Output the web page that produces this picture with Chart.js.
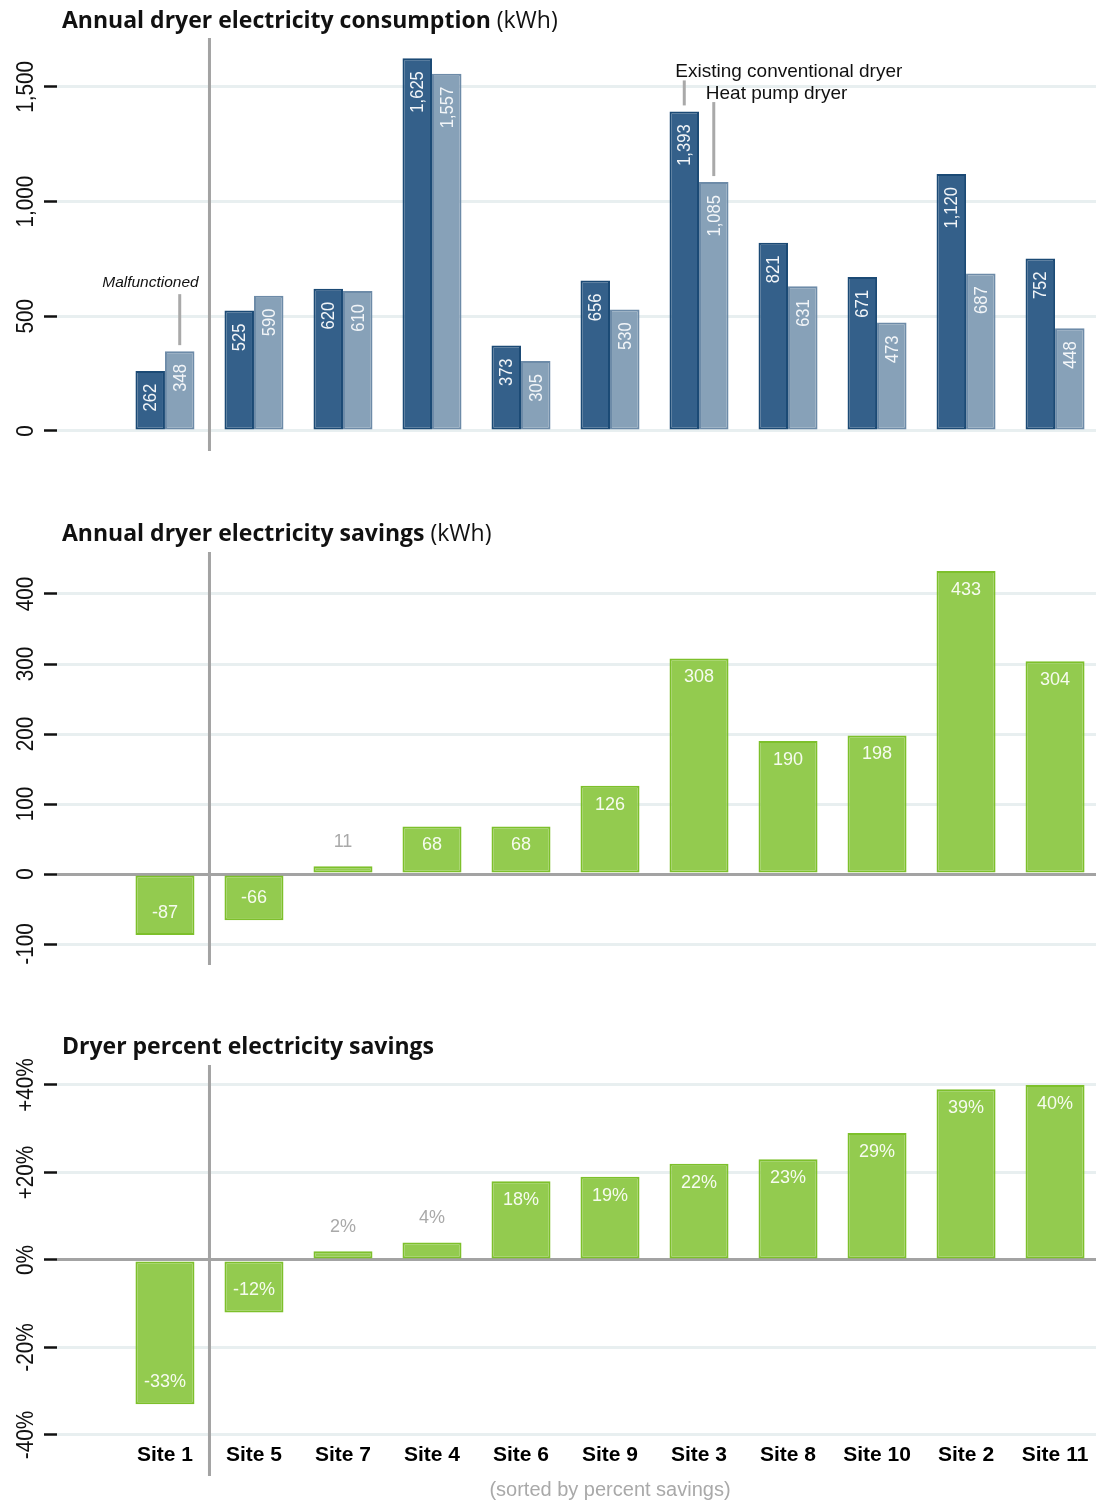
<!DOCTYPE html>
<html><head><meta charset="utf-8">
<script src="https://cdn.jsdelivr.net/npm/chart.js@4/dist/chart.umd.min.js"></script>
<style>
html,body{margin:0;padding:0;background:#fff;}
body{width:1096px;height:1503px;position:relative;overflow:hidden;font-family:"Liberation Sans",Arial,sans-serif;}
canvas{position:absolute;left:0;}
.title{position:absolute;left:62px;font-family:"Open Sans",sans-serif;font-size:23px;line-height:28px;color:#111;white-space:nowrap;}
.title b{font-weight:700;}
.note{position:absolute;left:0;width:1220px;text-align:center;top:1477px;font-size:20px;line-height:24px;color:#a9a9a9;}
</style></head><body>
<canvas id="c1" width="1096" height="480" style="top:0px"></canvas>
<canvas id="c2" width="1096" height="490" style="top:490px"></canvas>
<canvas id="c3" width="1096" height="503" style="top:1000px"></canvas>
<div class="title" style="top:5px"><b>Annual dryer electricity consumption</b> (kWh)</div>
<div class="title" style="top:518px"><b>Annual dryer electricity savings</b> (kWh)</div>
<div class="title" style="top:1031px"><b>Dryer percent electricity savings</b></div>
<div class="note">(sorted by percent savings)</div>
<script>
// ---- data ----
const sites = ['Site 1','Site 5','Site 7','Site 4','Site 6','Site 9','Site 3','Site 8','Site 10','Site 2','Site 11'];
const existingKWh = [262, 525, 620, 1625, 373, 656, 1393, 821, 671, 1120, 752];
const heatPumpKWh = [348, 590, 610, 1557, 305, 530, 1085, 631, 473, 687, 448];
const savingsKWh  = [-87, -66, 11, 68, 68, 126, 308, 190, 198, 433, 304];
const savingsPct  = [-33, -12, 2, 4, 18, 19, 22, 23, 29, 39, 40];
const consumptionTicks = [0, 500, 1000, 1500];
const consumptionTickLabels = ['0', '500', '1,000', '1,500'];
const savingsTicks = [-100, 0, 100, 200, 300, 400];
const savingsTickLabels = ['-100', '0', '100', '200', '300', '400'];
const pctTicks = [-40, -20, 0, 20, 40];
const pctTickLabels = ['-40%', '-20%', '0%', '+20%', '+40%'];
const seriesNames = ['Existing conventional dryer', 'Heat pump dryer'];
const malfunctionNote = 'Malfunctioned';

// ---- styles ----
const FONT = '"Liberation Sans", Arial, sans-serif';
const GRID = '#e8eff0';
const ZERO = '#a3a3a3';
const fmt = v => v.toLocaleString('en-US');
const pts = arr => arr.map((v, i) => ({x: i, y: v}));

function xAxis(showLabels) {
  return {
    type: 'linear', min: -1.213, max: 10.46, display: showLabels, offset: false,
    afterBuildTicks: s => { s.ticks = sites.map((_, i) => ({value: i})); },
    afterFit: s => { if (showLabels) s.height = 66; },
    grid: {display: false, drawTicks: false, offset: false},
    border: {display: false},
    ticks: {autoSkip: false, maxRotation: 0, minRotation: 0, padding: 6, color: '#000',
      font: {family: FONT, size: 21, weight: 'bold'},
      callback: v => sites[v] ?? ''}
  };
}
function yAxis(min, max, ticks, zeroDark) {
  return {
    min, max,
    afterBuildTicks: s => { s.ticks = ticks.map(v => ({value: v})); },
    afterFit: s => { s.width = 57; },
    border: {display: false},
    ticks: {display: false},
    grid: {
      color: c => (zeroDark && c.tick && c.tick.value === 0) ? ZERO : GRID,
      lineWidth: 3, drawTicks: true, tickLength: 13, tickColor: '#111', tickWidth: 2.5
    }
  };
}

const yLabels = {
  id: 'yLabels',
  afterDraw(chart, args, o) {
    const s = chart.scales.y, ctx = chart.ctx;
    ctx.save();
    ctx.font = '23px ' + FONT; ctx.fillStyle = '#111';
    ctx.textAlign = 'center'; ctx.textBaseline = 'alphabetic';
    o.values.forEach((v, i) => {
      ctx.save();
      ctx.translate(33, s.getPixelForValue(v));
      ctx.rotate(-Math.PI / 2);
      ctx.scale(0.9, 1);
      ctx.fillText(o.labels[i], 0, 0);
      ctx.restore();
    });
    ctx.restore();
  }
};

const separator = {
  id: 'separator',
  beforeDatasetsDraw(chart, args, o) {
    const x = chart.scales.x.getPixelForValue(0.5), a = chart.chartArea, ctx = chart.ctx;
    ctx.save();
    ctx.strokeStyle = '#a3a3a3'; ctx.lineWidth = 3;
    ctx.beginPath(); ctx.moveTo(x, a.top); ctx.lineTo(x, a.bottom + (o.extend || 0)); ctx.stroke();
    ctx.restore();
  }
};

const barLabels = {
  id: 'barLabels',
  afterDatasetsDraw(chart, args, o) {
    const ctx = chart.ctx;
    ctx.save();
    ctx.font = '18px ' + FONT;
    chart.data.datasets.forEach((ds, di) => {
      chart.getDatasetMeta(di).data.forEach((bar, i) => {
        const v = ds.data[i].y;
        const text = o.format(v);
        if (o.mode === 'vertical') {
          ctx.save();
          ctx.fillStyle = '#f2f5f8';
          ctx.translate(bar.x + 1, bar.y + 13);
          ctx.rotate(-Math.PI / 2);
          ctx.scale(0.92, 1);
          ctx.textAlign = 'right'; ctx.textBaseline = 'middle';
          ctx.fillText(text, 0, 0);
          ctx.restore();
        } else {
          const h = Math.abs(bar.base - bar.y);
          ctx.textAlign = 'center'; ctx.textBaseline = 'middle';
          if (h < 35) {
            ctx.fillStyle = '#a9a9a9';
            ctx.fillText(text, bar.x, Math.min(bar.y, bar.base) - 24);
          } else {
            ctx.fillStyle = '#f6fbef';
            ctx.fillText(text, bar.x, v >= 0 ? bar.y + 19 : bar.y - 22);
          }
        }
      });
    });
    ctx.restore();
  }
};

const annotations = {
  id: 'annotations',
  afterDatasetsDraw(chart) {
    const ctx = chart.ctx;
    const m0 = chart.getDatasetMeta(0).data, m1 = chart.getDatasetMeta(1).data;
    ctx.save();
    ctx.strokeStyle = '#a9a9a9'; ctx.lineWidth = 3;
    const line = (x, y1, y2) => { ctx.beginPath(); ctx.moveTo(x, y1); ctx.lineTo(x, y2); ctx.stroke(); };
    const b1 = m1[0];
    line(b1.x, b1.y - 6, b1.y - 57);
    const e = m0[6], h = m1[6];
    line(e.x, e.y - 6, e.y - 31);
    line(h.x, h.y - 6, h.y - 80);
    ctx.fillStyle = '#111'; ctx.textBaseline = 'middle';
    ctx.font = 'italic 15.5px ' + FONT; ctx.textAlign = 'right';
    ctx.fillText(malfunctionNote, b1.x + 19, b1.y - 68);
    ctx.font = '19px ' + FONT; ctx.textAlign = 'left';
    ctx.fillText(seriesNames[0], e.x - 9, e.y - 40);
    ctx.fillText(seriesNames[1], h.x - 8, h.y - 88);
    ctx.restore();
  }
};

const common = {
  responsive: false, animation: false, devicePixelRatio: 1,
  plugins: {legend: {display: false}, tooltip: {enabled: false}}
};

new Chart(document.getElementById('c1'), {
  type: 'bar',
  data: {datasets: [
    {label: seriesNames[0], data: pts(existingKWh), backgroundColor: '#34608a', borderColor: '#1b4a75', borderWidth: 2, borderSkipped: false},
    {label: seriesNames[1], data: pts(heatPumpKWh), backgroundColor: '#87a1b8', borderColor: '#6d8ba8', borderWidth: 2, borderSkipped: false}
  ]},
  options: {...common,
    categoryPercentage: 0.663, barPercentage: 1,
    layout: {padding: {top: 38, bottom: 29, left: 0, right: 0}},
    scales: {x: xAxis(false), y: yAxis(-87.2, 1713, consumptionTicks, false)},
    plugins: {...common.plugins,
      yLabels: {values: consumptionTicks, labels: consumptionTickLabels},
      separator: {extend: 0},
      barLabels: {mode: 'vertical', format: fmt}}
  },
  plugins: [yLabels, separator, barLabels, annotations]
});

new Chart(document.getElementById('c2'), {
  type: 'bar',
  data: {datasets: [
    {label: 'Savings (kWh)', data: pts(savingsKWh), backgroundColor: '#93cb4f', borderColor: '#7dc02b', borderWidth: 2, borderSkipped: false}
  ]},
  options: {...common,
    categoryPercentage: 0.663, barPercentage: 1,
    layout: {padding: {top: 62, bottom: 15, left: 0, right: 0}},
    scales: {x: xAxis(false), y: yAxis(-130, 460, savingsTicks, true)},
    plugins: {...common.plugins,
      yLabels: {values: savingsTicks, labels: savingsTickLabels},
      separator: {extend: 0},
      barLabels: {mode: 'horizontal', format: fmt}}
  },
  plugins: [yLabels, separator, barLabels]
});

new Chart(document.getElementById('c3'), {
  type: 'bar',
  data: {datasets: [
    {label: 'Savings (%)', data: pts(savingsPct), backgroundColor: '#93cb4f', borderColor: '#7dc02b', borderWidth: 2, borderSkipped: false}
  ]},
  options: {...common,
    categoryPercentage: 0.663, barPercentage: 1,
    layout: {padding: {top: 65, bottom: 0, left: 0, right: 0}},
    scales: {x: xAxis(true), y: yAxis(-40.46, 44.57, pctTicks, true)},
    plugins: {...common.plugins,
      yLabels: {values: pctTicks, labels: pctTickLabels},
      separator: {extend: 39},
      barLabels: {mode: 'horizontal', format: v => v + '%'}}
  },
  plugins: [yLabels, separator, barLabels]
});
</script>
</body></html>
